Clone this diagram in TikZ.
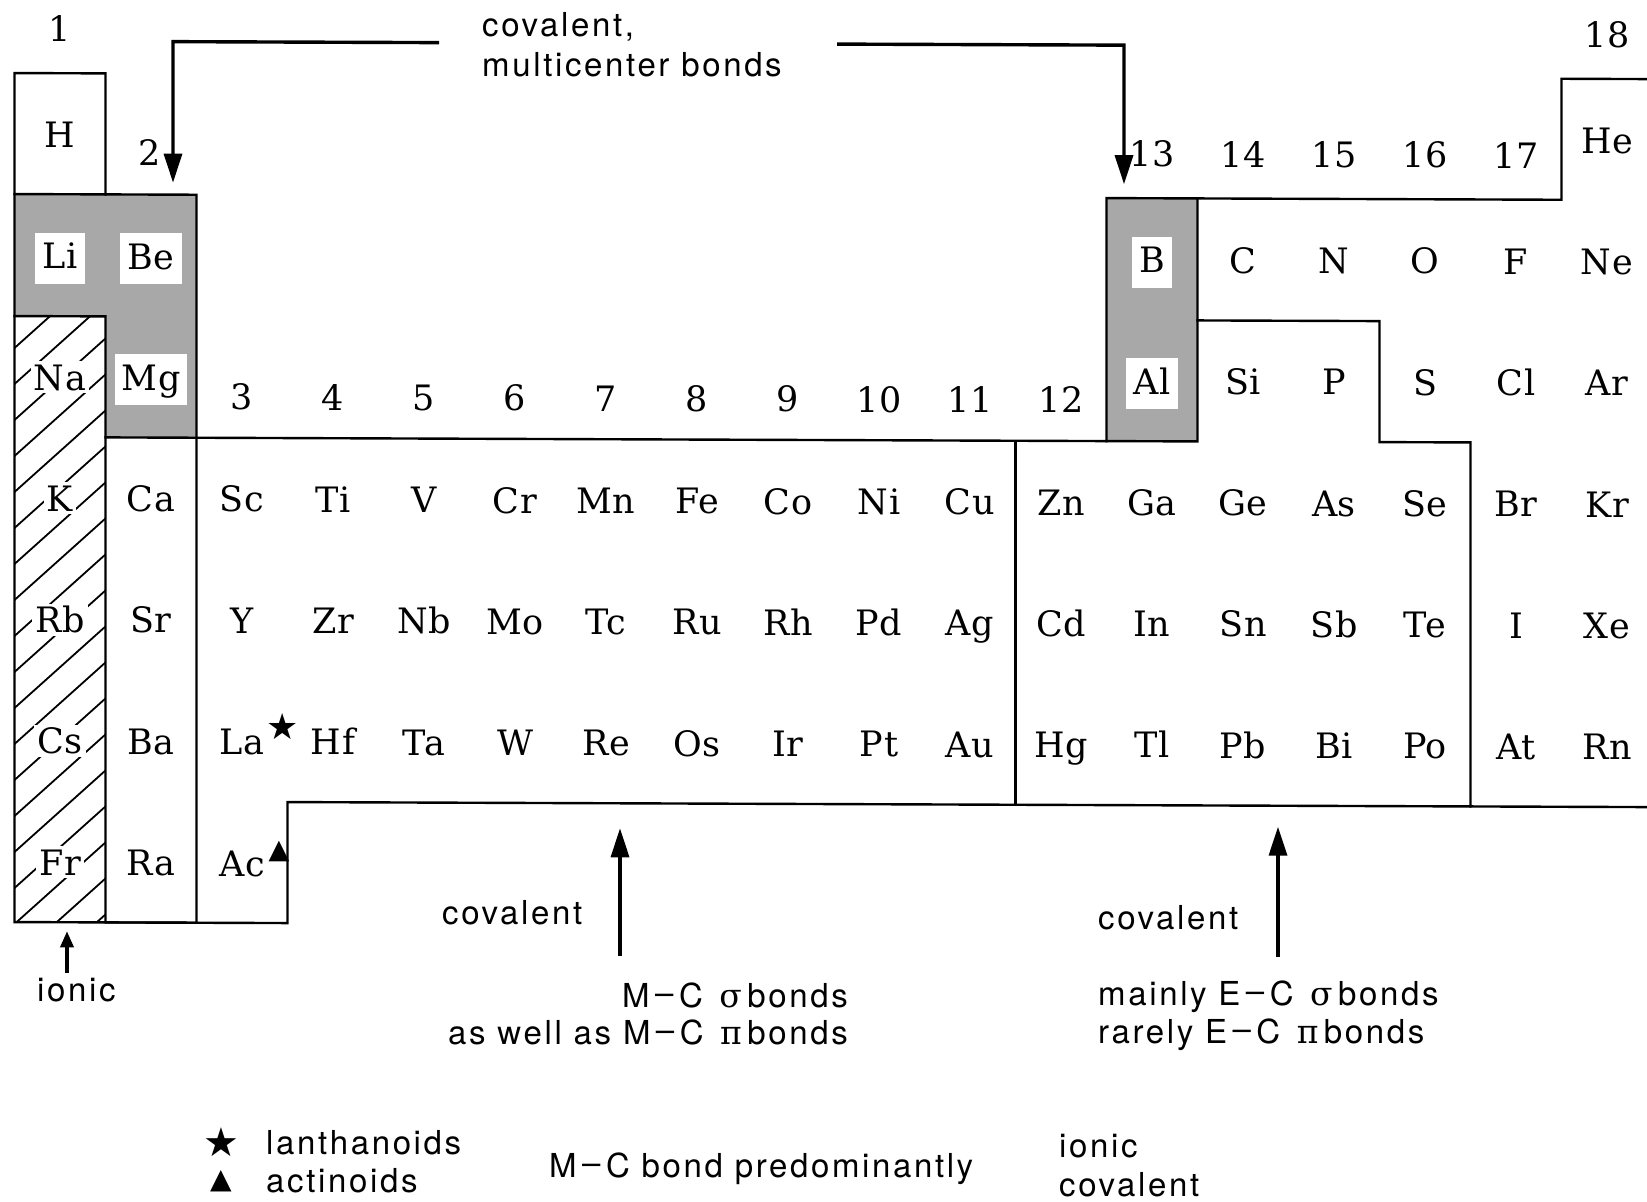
\documentclass[tikz,border=0pt]{standalone}
\usepackage{fontspec}
\setsansfont{TeX Gyre Heros}[LetterSpace=8]
\newfontfamily\symfont{DejaVu Sans}
\newfontfamily\greekfont{DejaVu Serif}
\newfontfamily\elemface{DejaVu Serif}[LetterSpace=2]
\usetikzlibrary{arrows.meta}

\newcommand\elemfont{\elemface\fontsize{35}{40}\selectfont}
\newcommand\notefont{\sffamily\fontsize{33}{40}\selectfont}
\newcommand\bonddash{\,\raisebox{0.09em}{–}\,}

\tikzset{
  elem/.style={font=\elemfont, anchor=base, inner xsep=7pt, inner ysep=6pt,
               text height=30pt, text depth=9pt},
  shadedlab/.style={elem, fill=white},
  hatchlab/.style={elem, fill=white, inner xsep=3pt, inner ysep=2pt,
                   text height=27pt, text depth=1pt},
  grp/.style={font=\elemfont, anchor=base, inner sep=0pt},
  note/.style={font=\notefont, anchor=base west, inner sep=0pt},
  noteR/.style={font=\notefont, anchor=base east, inner sep=0pt},
  tbl/.style={line width=2.4pt, line join=miter, line cap=rect},
  shade/.style={fill=black!34},
  hatchline/.style={line width=1.8pt},
  bigarrow/.style={line width=3.4pt, -{Triangle[length=29pt,width=18pt]}},
  smallarrow/.style={line width=3.4pt, -{Triangle[length=16pt,width=13pt]}},
  symb/.style={inner sep=0pt}
}

\begin{document}
\begin{tikzpicture}[x=1pt,y=-1pt]
\useasboundingbox (0,0) rectangle (1647,1202);
\clip (0,0) rectangle (1647,1202);
\fill[white] (0,0) rectangle (1647,1202);

\begin{scope}[yslant=-0.0037]

% --- shaded blocks (Li/Be/Mg and B/Al) ---
\fill[shade] (14.5,194) -- (196.5,194) -- (196.5,437) -- (105.5,437)
             -- (105.5,316) -- (14.5,316) -- cycle;
\fill[shade] (1106.5,194) rectangle (1197.5,437);

% --- hatched alkali column ---
\begin{scope}
  \clip (14.5,316) rectangle (105.5,922);
  \foreach \k in {0,...,20}
    \draw[hatchline] (10,{316+36*\k}) -- (110,{316+36*\k-90});
\end{scope}

% --- group numbers ---
\node[grp] (grp1)  at (60,41.5)    {1};
\node[grp] (grp2)  at (150,164.5)  {2};
\foreach \g in {3,...,12}
  \node[grp] (grp\g) at ({60+91*(\g-1)},409) {\g};
\foreach \g in {13,...,17}
  \node[grp] (grp\g) at ({60+91*(\g-1)},162.5) {\g};
\node[grp] (grp18) at (1607,41.5) {18};

% --- period 1 ---
\node[elem] (el-H)  at (60,147.2)   {H};
\node[elem] (el-He) at (1607,147.2) {He};

% --- period 2 ---
\node[shadedlab] (el-Li) at (60,268.5)  {Li};
\node[shadedlab] (el-Be) at (151,268.5) {Be};
\node[shadedlab] (el-B)  at (1152,268.5) {B};
\foreach \s [count=\i from 14] in {C,N,O,F,Ne}
  \node[elem] (el-\s) at ({60+91*(\i-1)},268.5) {\s};

% --- period 3 ---
\node[hatchlab]  (el-Na) at (60,389.8)   {Na};
\node[shadedlab] (el-Mg) at (151,389.8)  {Mg};
\node[shadedlab] (el-Al) at (1152,389.8) {Al};
\foreach \s [count=\i from 14] in {Si,P,S,Cl,Ar}
  \node[elem] (el-\s) at ({60+91*(\i-1)},389.8) {\s};

% --- periods 4 to 7 ---
\node[hatchlab] (el-K)  at (60,511.1) {K};
\node[hatchlab] (el-Rb) at (60,632.4) {Rb};
\node[hatchlab] (el-Cs) at (60,753.7) {Cs};
\node[hatchlab] (el-Fr) at (60,875.1) {Fr};
\foreach \s [count=\i from 2] in {Ca,Sc,Ti,V,Cr,Mn,Fe,Co,Ni,Cu,Zn,Ga,Ge,As,Se,Br,Kr}
  \node[elem] (el-\s) at ({60+91*(\i-1)},511.1) {\s};
\foreach \s [count=\i from 2] in {Sr,Y,Zr,Nb,Mo,Tc,Ru,Rh,Pd,Ag,Cd,In,Sn,Sb,Te,I,Xe}
  \node[elem] (el-\s) at ({60+91*(\i-1)},632.4) {\s};
\foreach \s [count=\i from 2] in {Ba,La,Hf,Ta,W,Re,Os,Ir,Pt,Au,Hg,Tl,Pb,Bi,Po,At,Rn}
  \node[elem] (el-\s) at ({60+91*(\i-1)},753.7) {\s};
\node[elem] (el-Ra) at (151,875.1) {Ra};
\node[elem] (el-Ac) at (242,875.1) {Ac};

% lanthanoid / actinoid markers
\node[symb, font=\symfont\fontsize{36}{36}\selectfont] (starLa) at (283,726) {★};
\node[symb, font=\symfont\fontsize{27}{27}\selectfont] (triAc)  at (279,850) {▲};

% --- table outline ---
\draw[tbl] (105.5,194) -- (105.5,73) -- (14.5,73) -- (14.5,922) -- (287.5,922)
           -- (287.5,801) -- (1660,801);
\draw[tbl] (14.5,194) -- (196.5,194) -- (196.5,922);
\draw[tbl] (14.5,316) -- (105.5,316) -- (105.5,922) -- (196.5,922);
\draw[tbl] (105.5,437) -- (1106.5,437);
\draw[tbl] (1015.5,437) -- (1015.5,801);
\draw[tbl] (1106.5,194) rectangle (1197.5,437);
\draw[tbl] (1197.5,194) -- (1561.5,194) -- (1561.5,73) -- (1660,73);
\draw[tbl] (1197.5,316) -- (1379.5,316) -- (1379.5,437) -- (1470.5,437) -- (1470.5,801);

% --- multicenter bonds annotation ---
\node[note] (mcb1) at (482,35) {covalent,};
\node[note] (mcb2) at (482,75) {multicenter bonds};
\coordinate (mcbL)  at (439,41);
\coordinate (tip2)  at (173,182);
\coordinate (mcbR)  at (837,41);
\coordinate (tip13) at (1124,180);
\draw[bigarrow] (mcbL) -| (tip2);
\draw[bigarrow] (mcbR) -| (tip13);

% --- ionic (alkali metals) ---
\coordinate (ionTail) at (67,973);
\coordinate (ionTip)  at (67,931);
\draw[smallarrow] (ionTail) -- (ionTip);
\node[note] (lab-ionic) at (37,1001) {ionic};

% --- transition metals ---
\coordinate (tmTail) at (620,954);
\coordinate (tmTip)  at (620,826);
\draw[bigarrow] (tmTail) -- (tmTip);
\node[note]  (tm-cov) at (442,923) {covalent};
\node[noteR] (tm-l1)  at (848,1004) {M\bonddash C\enspace{\greekfont σ}\,bonds};
\node[noteR] (tm-l2)  at (848,1041) {as well as M\bonddash C\enspace{\greekfont π}\,bonds};

% --- main group elements ---
\coordinate (mgTail) at (1278,952);
\coordinate (mgTip)  at (1278,822);
\draw[bigarrow] (mgTail) -- (mgTip);
\node[note] (mg-cov) at (1098,925) {covalent};
\node[note] (mg-l1)  at (1098,1001) {mainly E\bonddash C\enspace{\greekfont σ}\,bonds};
\node[note] (mg-l2)  at (1098,1039) {rarely E\bonddash C\enspace{\greekfont π}\,bonds};

% --- legend ---
\node[symb, font=\symfont\fontsize{40}{40}\selectfont] (lg-star) at (221,1141) {★};
\node[note] (lg-lan) at (266,1154) {lanthanoids};
\node[symb, font=\symfont\fontsize{28}{28}\selectfont] (lg-tri)  at (221,1180) {▲};
\node[note] (lg-act) at (266,1192) {actinoids};
\node[note] (lg-mc)  at (549,1175) {M\bonddash C bond predominantly};
\node[note] (lg-ion) at (1059,1154) {ionic};
\node[note] (lg-cov) at (1059,1193) {covalent};

\end{scope}
\end{tikzpicture}
\end{document}
